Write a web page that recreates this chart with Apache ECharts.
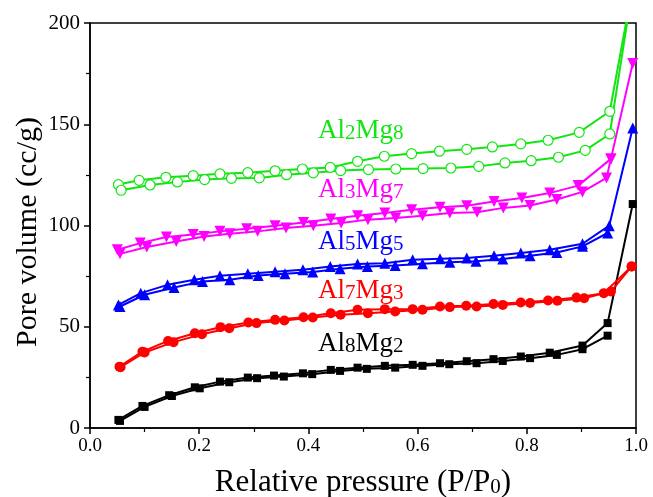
<!DOCTYPE html>
<html><head><meta charset="utf-8">
<script src="https://cdn.jsdelivr.net/npm/echarts@6/dist/echarts.min.js"></script>
<style>html,body{margin:0;padding:0;background:#fff}#c{width:653px;height:497px}</style>
</head><body><div id="c"></div>
<script>
// Al8Mg2
const al8mg2_ax = [0.052,0.096,0.145,0.192,0.238,0.289,0.337,0.39,0.441,0.49,0.54,0.591,0.641,0.69,0.739,0.789,0.842,0.902,0.948,0.994];
const al8mg2_ay = [4.0,10.9,16.2,20.1,22.9,24.9,25.9,27.0,28.7,29.8,30.7,31.2,32.0,33.0,34.0,35.3,37.2,40.7,51.8,110.6];
const al8mg2_bx = [0.055,0.1,0.15,0.201,0.255,0.306,0.355,0.407,0.458,0.507,0.559,0.609,0.658,0.708,0.756,0.806,0.855,0.902,0.948];
const al8mg2_by = [3.5,10.4,15.8,19.6,22.6,24.6,25.4,26.6,28.2,29.2,29.8,30.7,31.5,32.0,33.1,34.5,36.1,38.9,45.6];
// Al7Mg3
const al7mg3_ax = [0.054,0.096,0.143,0.192,0.239,0.29,0.339,0.391,0.441,0.49,0.54,0.591,0.641,0.689,0.739,0.789,0.839,0.891,0.941,0.992];
const al7mg3_ay = [30.3,37.7,43.0,46.8,49.8,52.1,53.4,54.7,56.7,58.4,58.7,58.7,60.0,60.4,61.2,62.0,63.0,64.4,66.6,79.8];
const al7mg3_bx = [0.056,0.1,0.153,0.205,0.255,0.305,0.356,0.408,0.459,0.509,0.559,0.609,0.659,0.708,0.756,0.806,0.856,0.905,0.954,0.992];
const al7mg3_by = [30.0,37.3,42.4,46.3,49.3,51.8,53.1,54.6,55.9,56.7,57.5,58.4,59.7,60.0,60.8,61.7,62.8,64.1,67.4,79.8];
// Al5Mg5
const al5mg5_ax = [0.052,0.093,0.142,0.191,0.238,0.289,0.339,0.39,0.44,0.49,0.54,0.591,0.641,0.69,0.74,0.789,0.842,0.902,0.951,0.994];
const al5mg5_ay = [60.8,66.6,70.7,73.2,75.2,76.2,77.2,78.1,79.8,81.0,81.4,83.1,83.6,84.0,85.1,86.4,88.0,91.0,99.9,148.2];
const al5mg5_bx = [0.055,0.1,0.154,0.206,0.256,0.308,0.357,0.408,0.458,0.508,0.559,0.609,0.659,0.707,0.756,0.806,0.855,0.902,0.948];
const al5mg5_by = [60.0,65.8,69.4,72.4,73.2,75.3,76.2,77.0,78.6,79.8,80.3,81.1,81.9,82.3,83.4,85.1,86.7,89.7,96.3];
// Al3Mg7
const al3mg7_ax = [0.05,0.092,0.14,0.189,0.238,0.287,0.339,0.391,0.441,0.49,0.54,0.589,0.641,0.69,0.74,0.791,0.842,0.894,0.954,0.994];
const al3mg7_ay = [88.0,91.3,94.3,95.5,97.1,98.4,99.9,101.5,103.2,104.8,106.2,107.8,109.0,109.8,111.9,113.6,116.0,119.7,132.9,180.0];
const al3mg7_bx = [0.055,0.104,0.158,0.209,0.256,0.307,0.359,0.409,0.46,0.509,0.56,0.609,0.659,0.709,0.757,0.806,0.855,0.902,0.946,0.954];
const al3mg7_by = [86.0,89.4,92.1,94.6,95.9,97.1,98.8,99.9,101.2,102.9,103.7,104.8,106.2,106.5,108.7,109.9,112.8,116.6,123.5,132.9];
// Al2Mg8
const al2mg8_ax = [0.052,0.09,0.139,0.189,0.238,0.289,0.339,0.389,0.44,0.49,0.539,0.589,0.64,0.69,0.737,0.789,0.839,0.896,0.952,0.994];
const al2mg8_ay = [120.2,122.3,123.8,124.6,125.5,126.1,127.0,127.9,128.7,131.7,134.2,135.5,136.7,137.6,138.8,140.3,142.1,146.0,156.4,218];
const al2mg8_bx = [0.057,0.11,0.16,0.21,0.259,0.31,0.36,0.409,0.459,0.51,0.56,0.61,0.661,0.712,0.76,0.808,0.858,0.907,0.952,0.994];
const al2mg8_by = [117.4,120.0,121.5,122.7,123.3,123.5,125.1,126.0,127.1,127.6,127.9,128.1,128.4,129.2,130.9,132.0,133.7,137.1,145.2,218];

const xTitle = 'Relative pressure (P/P';
const yTitle = 'Pore volume (cc/g)';

const FONT = '"Liberation Serif","Times New Roman",serif';
const zip = (xs, ys) => xs.map((x, i) => [x, ys[i]]);

const samples = [
  {name: 'Al8Mg2', a: [al8mg2_ax, al8mg2_ay], b: [al8mg2_bx, al8mg2_by], color: '#000000', symbol: 'rect', size: 8, hollow: false, lbl: ['Al','8','Mg','2'], ly: 346},
  {name: 'Al7Mg3', a: [al7mg3_ax, al7mg3_ay], b: [al7mg3_bx, al7mg3_by], color: '#ff0000', symbol: 'circle', size: 10, hollow: false, lbl: ['Al','7','Mg','3'], ly: 293},
  {name: 'Al5Mg5', a: [al5mg5_ax, al5mg5_ay], b: [al5mg5_bx, al5mg5_by], color: '#0000ff', symbol: 'triangle', size: 11, hollow: false, lbl: ['Al','5','Mg','5'], ly: 244},
  {name: 'Al3Mg7', a: [al3mg7_ax, al3mg7_ay], b: [al3mg7_bx, al3mg7_by], color: '#ff00ff', symbol: 'path://M0,0 L10,0 L5,9 Z', size: 11, hollow: false, lbl: ['Al','3','Mg','7'], ly: 192},
  {name: 'Al2Mg8', a: [al2mg8_ax, al2mg8_ay], b: [al2mg8_bx, al2mg8_by], color: '#11e611', symbol: 'circle', size: 10, hollow: true, lbl: ['Al','2','Mg','8'], ly: 133}
];

const series = [];
samples.forEach(s => {
  [s.a, s.b].forEach((br, k) => {
    series.push({
      name: s.name + (k ? ' des' : ' ads'),
      type: 'line',
      data: zip(br[0], br[1]),
      symbol: s.symbol,
      symbolSize: s.size,
      showAllSymbol: true,
      clip: true,
      lineStyle: {color: s.color, width: 2},
      itemStyle: s.hollow ? {color: '#ffffff', borderColor: s.color, borderWidth: 1.2} : {color: s.color, borderWidth: 0},
      animation: false,
      z: 3
    });
  });
});

const graphics = samples.map(s => ({
  type: 'text',
  left: 318,
  top: s.ly - 16,
  style: {
    text: '{a|' + s.lbl[0] + '}{b|' + s.lbl[1] + '}{a|' + s.lbl[2] + '}{b|' + s.lbl[3] + '}',
    rich: {
      a: {fontFamily: FONT, fontSize: 27, fill: s.color, color: s.color, verticalAlign: 'bottom', lineHeight: 30},
      b: {fontFamily: FONT, fontSize: 21, fill: s.color, color: s.color, verticalAlign: 'bottom', lineHeight: 30}
    },
    fill: s.color
  },
  z: 10
}));
graphics.push({
  type: 'text', x: 363, y: 480,
  style: {
    text: '{t|' + xTitle + '}{s|0}{t|)}',
    align: 'center', verticalAlign: 'middle',
    rich: {
      t: {fontFamily: FONT, fontSize: 31, fill: '#000', color: '#000', verticalAlign: 'bottom', lineHeight: 36},
      s: {fontFamily: FONT, fontSize: 21, fill: '#000', color: '#000', verticalAlign: 'bottom', lineHeight: 22}
    }
  }
});
graphics.push({
  type: 'text', x: 28, y: 232, rotation: Math.PI / 2,
  style: {text: yTitle, fontFamily: FONT, fontSize: 30, fill: '#000', align: 'center', verticalAlign: 'middle'}
});

const chart = echarts.init(document.getElementById('c'), null, {renderer: 'canvas'});
chart.setOption({
  backgroundColor: '#ffffff',
  animation: false,
  grid: {left: 90, right: 17, top: 23, bottom: 69, show: true, borderColor: '#000', borderWidth: 1.5, backgroundColor: 'transparent'},
  xAxis: {
    type: 'value', min: 0, max: 1, interval: 0.2,
    axisLine: {show: true, onZero: false, lineStyle: {color: '#000', width: 1.5}},
    axisTick: {show: true, inside: false, length: 6, lineStyle: {color: '#000', width: 1.5}},
    minorTick: {show: true, splitNumber: 2, length: 4, lineStyle: {color: '#000', width: 1.2}},
    splitLine: {show: false},
    axisLabel: {fontFamily: FONT, fontSize: 19, color: '#000', margin: 9, formatter: v => v.toFixed(1)}
  },
  yAxis: {
    type: 'value', min: 0, max: 200, interval: 50,
    axisLine: {show: true, onZero: false, lineStyle: {color: '#000', width: 1.5}},
    axisTick: {show: true, inside: false, length: 6, lineStyle: {color: '#000', width: 1.5}},
    minorTick: {show: true, splitNumber: 2, length: 4, lineStyle: {color: '#000', width: 1.2}},
    splitLine: {show: false},
    axisLabel: {fontFamily: FONT, fontSize: 21, color: '#000', margin: 10}
  },
  series: series,
  graphic: graphics
});
</script></body></html>
